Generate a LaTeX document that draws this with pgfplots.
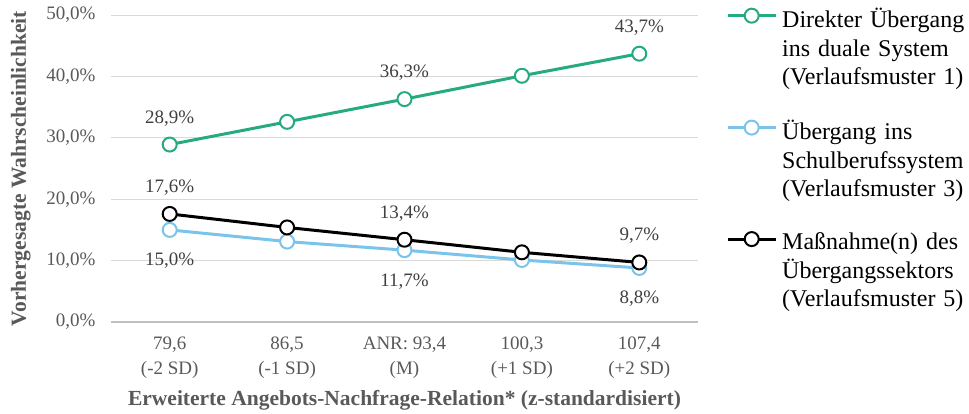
\documentclass[border=0pt]{standalone}
\usepackage{fontspec}
\setmainfont{Liberation Serif}
\usepackage{pgfplots}
\pgfplotsset{compat=1.18}
\definecolor{cgreen}{RGB}{38,170,130}
\definecolor{cblue}{RGB}{122,196,236}
\definecolor{cgrid}{RGB}{217,217,217}
\definecolor{caxis}{RGB}{191,191,191}
\definecolor{ctext}{RGB}{89,89,89}
\definecolor{clab}{RGB}{64,64,64}
\begin{document}
\begin{tikzpicture}
\path[use as bounding box] (-111pt,-91pt) rectangle (858pt,322pt);
\begin{axis}[
  at={(0pt,0pt)}, anchor=south west,
  scale only axis, width=587pt, height=307pt,
  xmin=-0.5, xmax=4.5, ymin=0, ymax=50,
  axis line style={draw=none},
  major tick length=0pt,
  xtick={0,1,2,3,4},
  xticklabels={{79,6\\(-2 SD)},{86,5\\(-1 SD)},{ANR: 93,4\\(M)},{100,3\\(+1 SD)},{107,4\\(+2 SD)}},
  xticklabel style={align=center, font=\fontsize{19}{25}\selectfont, text=ctext, yshift=-11pt},
  ytick={0,10,20,30,40,50},
  yticklabels={{0,0\%},{10,0\%},{20,0\%},{30,0\%},{40,0\%},{50,0\%}},
  yticklabel style={font=\fontsize{19}{22}\selectfont, text=ctext, xshift=-12pt},
  ymajorgrids, grid style={cgrid, line width=1pt},
  extra y ticks={0}, extra y tick labels={},
  extra y tick style={grid style={caxis, line width=2pt}},
  xlabel={Erweiterte Angebots-Nachfrage-Relation* (z-standardisiert)},
  ylabel={Vorhergesagte Wahrscheinlichkeit},
  xlabel style={font=\bfseries\fontsize{21.5}{24}\selectfont, text=ctext, yshift=-5pt},
  ylabel style={font=\bfseries\fontsize{21.5}{24}\selectfont, text=ctext, yshift=9pt},
  clip=false,
  legend style={at={(1,1)}, anchor=north west, xshift=25pt, yshift=9pt, draw=none, fill=none,
    font=\fontsize{24}{28.5}\selectfont, row sep=91pt, /tikz/column sep=5pt,
    nodes={align=left, text width=185pt, inner sep=0pt, xshift=5pt}},
  legend cell align=left,
  legend image code/.code={\draw[mark repeat=2, mark phase=2] plot coordinates {(0pt,0.3em) (24pt,0.3em) (48pt,0.3em)};},
  every axis plot/.append style={line width=3pt, mark=*, mark size=7pt, mark options={fill=white, line width=2pt}},
]
\addplot[cgreen] coordinates {(0,28.9) (1,32.6) (2,36.3) (3,40.1) (4,43.7)};
\addlegendentry{Direkter Übergang\\ins duale System\\(Verlaufsmuster 1)}
\addplot[cblue] coordinates {(0,15.0) (1,13.1) (2,11.7) (3,10.1) (4,8.8)};
\addlegendentry{Übergang ins\\Schulberufssystem\\(Verlaufsmuster 3)}
\addplot[black] coordinates {(0,17.6) (1,15.4) (2,13.4) (3,11.35) (4,9.7)};
\addlegendentry{Maßnahme(n) des\\Übergangssektors\\(Verlaufsmuster 5)}
\begin{scope}[every node/.style={font=\fontsize{19}{22}\selectfont, text=clab}]
\node at (axis cs:0,33.2) {28,9\%};
\node at (axis cs:2,40.6) {36,3\%};
\node at (axis cs:4,48.0) {43,7\%};
\node at (axis cs:0,21.9) {17,6\%};
\node at (axis cs:2,17.7) {13,4\%};
\node at (axis cs:4,14.0) {9,7\%};
\node at (axis cs:0,9.95) {15,0\%};
\node at (axis cs:2,6.65) {11,7\%};
\node at (axis cs:4,3.75) {8,8\%};
\end{scope}
\end{axis}
\end{tikzpicture}
\end{document}
